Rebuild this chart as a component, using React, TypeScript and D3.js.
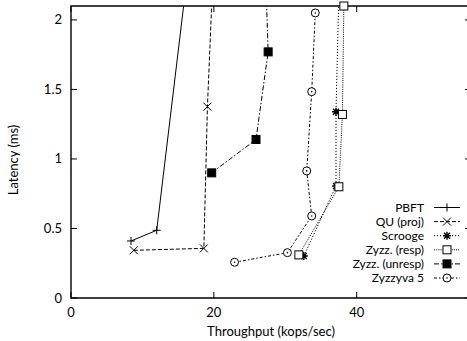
import React from "react";
import * as d3 from "d3";

type Pt = [number, number];

const pbft: Pt[] = [[8.4, 0.41], [12.0, 0.487], [16.7, 2.5]];
const quProj: Pt[] = [[8.8, 0.343], [18.6, 0.357], [19.1, 1.376], [20.1, 2.6]];
const scrooge: Pt[] = [[32.6, 0.302], [37.1, 0.806], [37.1, 1.34], [37.7, 2.6]];
const zyzzResp: Pt[] = [[31.9, 0.31], [37.5, 0.8], [38.0, 1.32], [38.2, 2.1]];
const zyzzUnresp: Pt[] = [[19.7, 0.9], [25.9, 1.14], [27.6, 1.77], [27.2, 2.4]];
const zyzzyva5: Pt[] = [[22.9, 0.257], [30.3, 0.326], [33.7, 0.59], [33.0, 0.914], [33.7, 1.484], [34.2, 2.05]];

const seriesNames = ["PBFT", "QU (proj)", "Scrooge", "Zyzz. (resp)", "Zyzz. (unresp)", "Zyzzyva 5"];
const seriesData = [pbft, quProj, scrooge, zyzzResp, zyzzUnresp, zyzzyva5];
const seriesDash = ["", "4,2", "1.2,1.8", "1,1.2", "5,2,1.5,2", "3,2,1.5,2"];
const seriesMarker = ["plus", "cross", "star", "square", "fsquare", "circle"];

const xTicks = [0, 20, 40];
const yTicks = [0, 0.5, 1, 1.5, 2];

const W = 467;
const H = 341;
const m = { left: 71, right: 471, top: 6, bottom: 298 };
const font = "Lato, 'Liberation Sans', sans-serif";

function Marker({ kind, x, y }: { kind: string; x: number; y: number }) {
  const s = 4;
  if (kind === "plus")
    return <path d={`M${x - s},${y}H${x + s}M${x},${y - s}V${y + s}`} stroke="#000" />;
  if (kind === "cross")
    return <path d={`M${x - s},${y - s}L${x + s},${y + s}M${x - s},${y + s}L${x + s},${y - s}`} stroke="#000" />;
  if (kind === "star")
    return (
      <path
        d={`M${x - s},${y}H${x + s}M${x},${y - s}V${y + s}M${x - s + 1},${y - s + 1}L${x + s - 1},${y + s - 1}M${x - s + 1},${y + s - 1}L${x + s - 1},${y - s + 1}`}
        stroke="#000"
        strokeWidth={1.4}
      />
    );
  if (kind === "square")
    return <rect x={x - s} y={y - s} width={2 * s} height={2 * s} fill="#fff" stroke="#000" />;
  if (kind === "fsquare")
    return <rect x={x - s} y={y - s} width={2 * s} height={2 * s} fill="#000" stroke="#000" />;
  return (
    <g>
      <circle cx={x} cy={y} r={s} fill="#fff" stroke="#000" />
      <circle cx={x} cy={y} r={0.8} fill="#000" />
    </g>
  );
}

export default function App() {
  const x = d3.scaleLinear().domain([0, 56]).range([m.left, m.right]);
  const y = d3.scaleLinear().domain([0, 2.1]).range([m.bottom, m.top]);
  const line = d3
    .line<Pt>()
    .x((d) => x(d[0]))
    .y((d) => y(d[1]));
  const tick = 6;
  const legendRight = 424;
  const legendY0 = 207.5;
  const legendStep = 14.1;

  return (
    <svg
      width={W}
      height={H}
      style={{ position: "absolute", left: 0, top: 0, background: "#fff" }}
      fontFamily={font}
    >
      <defs>
        <clipPath id="plotArea">
          <rect x={m.left} y={m.top} width={m.right - m.left} height={m.bottom - m.top} />
        </clipPath>
      </defs>

      {/* frame */}
      <path
        d={`M${m.right},${m.top}H${m.left}V${m.bottom}H${m.right}V${m.top}`}
        fill="none"
        stroke="#000"
        strokeWidth={1.4}
      />

      {yTicks.map((t) => (
        <g key={"y" + t}>
          <line x1={m.left} x2={m.left + tick} y1={y(t)} y2={y(t)} stroke="#000" />
          <line x1={m.right} x2={m.right - tick} y1={y(t)} y2={y(t)} stroke="#000" />
          <text x={m.left - 9} y={y(t) + 4.5} textAnchor="end" fontSize={13}>
            {t}
          </text>
        </g>
      ))}
      {xTicks.map((t) => (
        <g key={"x" + t}>
          <line x1={x(t)} x2={x(t)} y1={m.bottom} y2={m.bottom - tick} stroke="#000" />
          <line x1={x(t)} x2={x(t)} y1={m.top} y2={m.top + tick} stroke="#000" />
          <text x={x(t)} y={m.bottom + 19} textAnchor="middle" fontSize={13}>
            {t}
          </text>
        </g>
      ))}

      <text x={271} y={336} textAnchor="middle" fontSize={13}>
        Throughput (kops/sec)
      </text>
      <text transform="translate(18,160) rotate(-90)" textAnchor="middle" fontSize={13}>
        Latency (ms)
      </text>

      <g clipPath="url(#plotArea)">
        {seriesData.map((d, i) => (
          <path
            key={seriesNames[i]}
            d={line(d) || ""}
            fill="none"
            stroke="#000"
            strokeWidth={1}
            strokeDasharray={seriesDash[i] || undefined}
          />
        ))}
      </g>
      {seriesData.map((d, i) =>
        d.map((p, j) => (
          <Marker key={seriesNames[i] + j} kind={seriesMarker[i]} x={x(p[0])} y={y(p[1])} />
        ))
      )}

      {seriesNames.map((name, i) => {
        const ly = legendY0 + i * legendStep;
        return (
          <g key={"leg" + name}>
            <text x={legendRight} y={ly + 4.2} textAnchor="end" fontSize={12}>
              {name}
            </text>
            <line
              x1={434}
              x2={460}
              y1={ly}
              y2={ly}
              stroke="#000"
              strokeDasharray={seriesDash[i] || undefined}
            />
            <Marker kind={seriesMarker[i]} x={447} y={ly} />
          </g>
        );
      })}
    </svg>
  );
}
